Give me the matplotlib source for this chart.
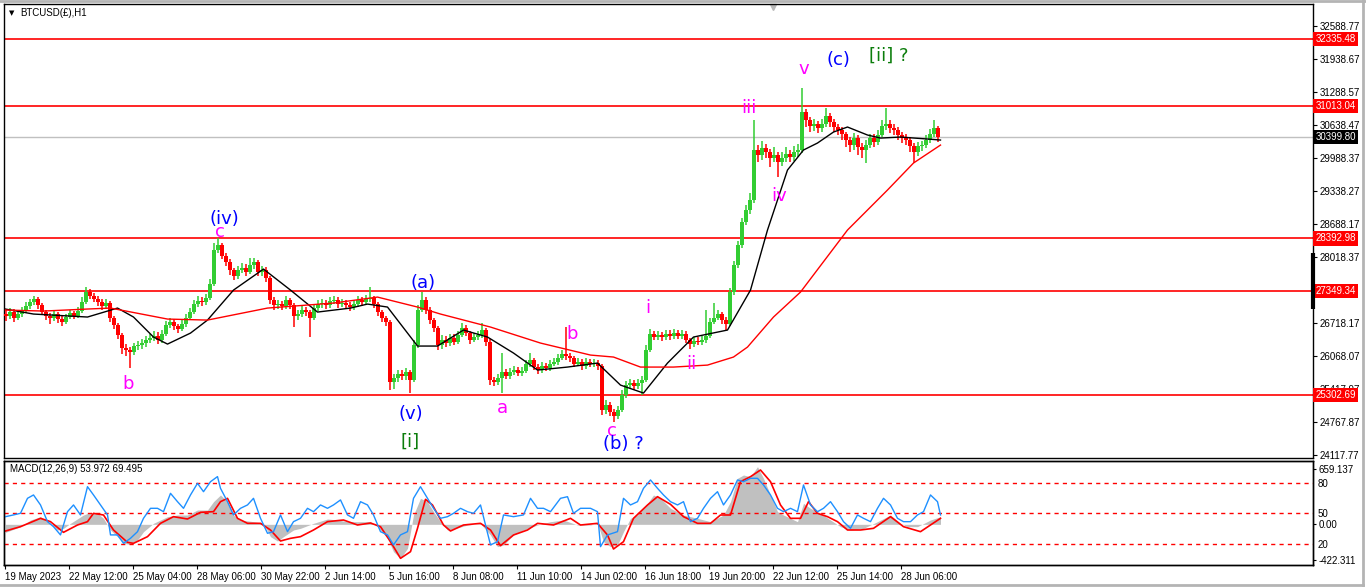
import numpy as np
import matplotlib
matplotlib.use("Agg")
import matplotlib.pyplot as plt
import matplotlib.transforms as mtransforms
from matplotlib.lines import Line2D

W, H = 1366, 588
plt.rcParams['font.family'] = ['Liberation Sans', 'DejaVu Sans']

# BTCUSD(£) H1, read off the chart and grouped 4 hours per candle
# (bar 0 = 19 May 20:00, one bar = one hour)
HOURS_PER_CANDLE = 4
first_open = 26900
close = [
    26861, 26940, 26821, 26900, 26980, 27058, 27137, 27197, 27078, 26940,
    26861, 26821, 26900, 26802, 26742, 26842, 26920, 26861, 26960, 27137,
    27335, 27256, 27197, 27137, 27058, 27118, 26821, 26683, 26486, 26229,
    26190, 26150, 26268, 26288, 26328, 26387, 26426, 26466, 26387, 26505,
    26683, 26742, 26663, 26604, 26703, 26821, 26940, 27098, 27157, 27137,
    27216, 27493, 28164, 28263, 28046, 27927, 27769, 27651, 27769, 27809,
    27730, 27868, 27927, 27730, 27769, 27611, 27177, 27078, 27098, 27058,
    27177, 27078, 26861, 26900, 26980, 26940, 26821, 27019, 27098, 27118,
    27078, 27157, 27177, 27098, 27118, 27078, 27039, 27098, 27177, 27137,
    27197, 27216, 27098, 26940, 26821, 26742, 25557, 25636, 25715, 25676,
    25755, 25597, 26288, 26980, 27177, 26980, 26782, 26624, 26288, 26387,
    26328, 26426, 26347, 26486, 26624, 26525, 26387, 26446, 26486, 26584,
    26347, 25597, 25557, 25636, 25755, 25676, 25755, 25794, 25735, 25775,
    25913, 25992, 25854, 25794, 25873, 25834, 25913, 25952, 26031, 26110,
    26071, 26031, 25913, 25952, 25873, 25952, 25913, 25933, 25873, 25004,
    25103, 24965, 24886, 25004, 25301, 25498, 25538, 25478, 25538, 25597,
    26190, 26505, 26446, 26486, 26446, 26505, 26466, 26525, 26466, 26505,
    26387, 26308, 26367, 26347, 26387, 26466, 26742, 26821, 26900, 26782,
    26703, 27335, 27868, 28263, 28717, 28954, 29152, 30139, 30041, 30179,
    30100, 29981, 30041, 29902, 29981, 30060, 30001, 30100, 30139, 30890,
    30732, 30613, 30653, 30574, 30653, 30811, 30692, 30594, 30534, 30455,
    30337, 30238, 30376, 30199, 30139, 30238, 30376, 30297, 30436, 30613,
    30653, 30574, 30534, 30436, 30376, 30337, 30218, 30100, 30218, 30238,
    30337, 30455, 30574, 30396,
]
high = [
    26990, 27020, 27000, 26980, 27050, 27130, 27200, 27260, 27240, 27110,
    26990, 26920, 26970, 26950, 26860, 26900, 26990, 26970, 27050, 27230,
    27430, 27390, 27310, 27250, 27190, 27200, 27160, 26870, 26720, 26530,
    26300, 26260, 26330, 26370, 26410, 26470, 26510, 26560, 26540, 26590,
    26760, 26830, 26800, 26710, 26780, 26900, 27030, 27170, 27250, 27230,
    27300, 27600, 28300, 28400, 28300, 28100, 27980, 27820, 27850, 27900,
    27880, 28010, 28000, 27960, 27850, 27830, 27650, 27230, 27170, 27150,
    27250, 27220, 27120, 26980, 27060, 27050, 26990, 27090, 27180, 27200,
    27180, 27240, 27260, 27240, 27190, 27170, 27140, 27180, 27260, 27240,
    27280, 27440, 27260, 27140, 26990, 26870, 26780, 25720, 25800, 25790,
    25830, 25800, 26380, 27080, 27340, 27230, 27050, 26830, 26670, 26480,
    26460, 26510, 26500, 26560, 26720, 26680, 26570, 26520, 26570, 26720,
    26630, 26400, 25660, 25720, 26140, 25820, 25830, 25870, 25850, 25850,
    26000, 26140, 26040, 25910, 25950, 25930, 25990, 26030, 26110, 26200,
    26640, 26140, 26080, 26030, 26010, 26040, 26020, 26010, 26000, 25920,
    25200, 25160, 25020, 25080, 25400, 25580, 25620, 25600, 25610, 25680,
    26280, 26600, 26570, 26560, 26540, 26590, 26580, 26610, 26580, 26590,
    26560, 26430, 26450, 26440, 26470, 26980, 26830, 27120, 26990, 26950,
    26840, 27420, 27950, 28350, 28800, 29050, 29300, 30730, 30240, 30320,
    30260, 30160, 30200, 30100, 30100, 30200, 30150, 30220, 30260, 31360,
    30950, 30800, 30760, 30720, 30760, 30970, 30870, 30750, 30660, 30600,
    30500, 30400, 30480, 30430, 30280, 30340, 30460, 30450, 30530, 30740,
    30970, 30740, 30660, 30600, 30500, 30450, 30400, 30280, 30300, 30320,
    30430, 30560, 30740, 30620,
]
low = [
    26760, 26800, 26740, 26780, 26850, 26930, 27000, 27080, 27010, 26880,
    26780, 26700, 26770, 26730, 26660, 26700, 26800, 26800, 26830, 26930,
    27100, 27190, 27130, 27060, 26990, 27000, 26740, 26600, 26400, 26120,
    26080, 25830, 26090, 26200, 26220, 26260, 26320, 26370, 26310, 26330,
    26460, 26620, 26590, 26530, 26560, 26650, 26780, 26900, 27050, 27060,
    27080, 27170, 27450, 28100, 27980, 27850, 27680, 27580, 27600, 27720,
    27660, 27700, 27800, 27650, 27660, 27540, 27090, 26990, 27000, 26980,
    27000, 27000, 26640, 26780, 26840, 26870, 26450, 26780, 26970, 27030,
    27000, 27020, 27090, 27030, 27040, 27000, 26960, 26980, 27040, 27060,
    27080, 27130, 27020, 26860, 26740, 26660, 25400, 25420, 25560, 25600,
    25600, 25340, 25560, 26240, 26940, 26900, 26700, 26540, 26190, 26220,
    26250, 26270, 26280, 26300, 26440, 26460, 26310, 26340, 26390, 26430,
    26270, 25500, 25480, 25500, 25340, 25610, 25620, 25690, 25670, 25680,
    25730, 25860, 25790, 25720, 25740, 25770, 25780, 25870, 25900, 25990,
    26000, 25960, 25850, 25870, 25800, 25820, 25850, 25860, 25800, 24900,
    24930, 24880, 24770, 24820, 24960, 25250, 25440, 25400, 25420, 25300,
    25560, 26150, 26380, 26390, 26370, 26390, 26390, 26410, 26400, 26410,
    26320, 26220, 26250, 26280, 26290, 26330, 26430, 26700, 26780, 26700,
    26580, 26660, 27280, 27820, 28200, 28650, 28880, 29100, 29900, 29950,
    29980, 29800, 29900, 29610, 29820, 29900, 29900, 29920, 30000, 30080,
    30600, 30500, 30520, 30470, 30500, 30600, 30600, 30500, 30430, 30330,
    30200, 30100, 30140, 30050, 29990, 29880, 30180, 30200, 30230, 30390,
    30540, 30480, 30430, 30330, 30280, 30230, 30100, 29880, 30020, 30130,
    30170, 30280, 30400, 30300,
]

# moving averages as drawn on the chart: (bar, price)
ma_black = [
    (1, 26999), (29, 26901), (83, 26842), (113, 27019), (129, 26842), (149, 26447),
    (163, 26308), (186, 26525), (203, 26782), (229, 27374), (259, 27789), (286, 27374),
    (313, 26940), (346, 27019), (363, 27098), (383, 27039), (413, 26269), (433, 26269),
    (459, 26585), (483, 26447), (509, 26131), (533, 25795), (563, 25854), (593, 25933),
    (616, 25498), (639, 25341), (663, 25933), (689, 26447), (723, 26585), (746, 27374),
    (763, 28560), (783, 29745), (799, 30140), (813, 30278), (829, 30495), (843, 30594),
    (863, 30436), (876, 30376), (896, 30396), (923, 30357), (936, 30337),
]
ma_red = [
    (1, 26980), (39, 26960), (83, 27000), (106, 27019), (163, 26802), (203, 26782),
    (263, 27019), (329, 27118), (373, 27236), (413, 27039), (436, 26901), (486, 26644),
    (536, 26328), (586, 26091), (609, 26052), (636, 25854), (669, 25854), (703, 25893),
    (729, 26052), (743, 26249), (769, 26842), (796, 27335), (843, 28560), (883, 29350),
    (909, 29883), (936, 30238),
]

sr_levels = [32335.48, 31013.04, 28392.98, 27349.34, 25302.69]
bid_price = 30399.80
price_ticks = [32588.77, 31938.67, 31288.57, 30638.47, 29988.37, 29338.27, 28688.17,
               28018.37, 26718.17, 26068.07, 25417.97, 24767.87, 24117.77]
time_labels = ["19 May 2023", "22 May 12:00", "25 May 04:00", "28 May 06:00",
               "30 May 22:00", "2 Jun 14:00", "5 Jun 16:00", "8 Jun 08:00",
               "11 Jun 10:00", "14 Jun 02:00", "16 Jun 18:00", "19 Jun 20:00",
               "22 Jun 12:00", "25 Jun 14:00", "28 Jun 06:00"]
TICK_EVERY = 64

# MACD window: histogram and signal (bar, value), blue line on the 0-100 level scale
macd_hist = [
    (1, -96), (16, -28), (26, 52), (36, 92), (46, 12), (53, -68), (59, -48), (66, 12),
    (79, 112), (86, 144), (93, 132), (99, 72), (106, -68), (113, -148), (119, -228),
    (126, -240), (133, -188), (139, -88), (149, 12), (163, 92), (173, 112), (183, 112),
    (193, 172), (203, 172), (209, 272), (216, 352), (223, 272), (229, 112), (236, 52),
    (249, 32), (259, 12), (266, -148), (273, -200), (279, -148), (289, -68), (296, -48),
    (309, 12), (323, 64), (333, 52), (343, 32), (356, 32), (366, 32), (373, -28),
    (383, -168), (389, -328), (396, -408), (403, -288), (409, 112), (416, 312),
    (423, 272), (429, 152), (436, 32), (443, -68), (449, -56), (463, -8), (476, 8),
    (486, -128), (493, -268), (499, -248), (509, -128), (519, -68), (533, -8), (546, 32),
    (559, 52), (573, -8), (586, -8), (593, 12), (599, -208), (606, -268), (613, -248),
    (619, -88), (626, 72), (633, 112), (643, 252), (649, 352), (656, 312), (666, 192),
    (679, 112), (693, 72), (706, 32), (719, 112), (726, 272), (733, 552), (739, 592),
    (746, 572), (753, 692), (759, 552), (766, 352), (773, 152), (779, 112), (786, 72),
    (793, 32), (799, 252), (806, 192), (816, 132), (826, 52), (836, -28), (846, -68),
    (859, -48), (873, 32), (886, 112), (896, 12), (903, -28), (913, -28), (926, 52),
    (936, 92),
]
macd_signal = [
    (1, -80), (16, -28), (36, 72), (46, 32), (59, -96), (73, -8), (83, 32), (89, 132),
    (99, 112), (109, -68), (123, -216), (129, -228), (143, -148), (156, 12), (169, 92),
    (183, 64), (196, 144), (209, 152), (216, 272), (223, 312), (233, 72), (243, 12),
    (256, 12), (266, -68), (276, -200), (286, -168), (296, -148), (309, -68), (323, 32),
    (339, 52), (353, -8), (366, 16), (376, -28), (386, -208), (396, -408), (406, -328),
    (413, -48), (421, 300), (428, 232), (439, -8), (446, -80), (459, -8), (476, 12),
    (486, -68), (496, -256), (509, -128), (523, -68), (533, 12), (549, -8), (566, 72),
    (576, -8), (593, 12), (603, -128), (609, -296), (619, -208), (629, 72), (643, 232),
    (653, 332), (666, 240), (679, 92), (693, 12), (706, 12), (716, 112), (726, 112),
    (736, 512), (746, 572), (756, 652), (766, 512), (776, 232), (786, 72), (796, 72),
    (804, 272), (813, 132), (823, 92), (833, 32), (843, -68), (856, -68), (869, -48),
    (886, 92), (899, -28), (916, -88), (926, -8), (936, 72),
]
blue_line = [
    (1, 46.7), (9, 48.4), (16, 50), (23, 64.7), (29, 68), (36, 58.2), (43, 41.8),
    (49, 36.9), (56, 28.8), (63, 51.6), (69, 58.2), (76, 48.4), (83, 76.1), (89, 68),
    (96, 58.2), (103, 48.4), (106, 28.8), (113, 28.8), (119, 20.6), (126, 25.5),
    (133, 32), (139, 45.1), (146, 54.9), (153, 54.9), (159, 51.6), (166, 69.6),
    (173, 61.4), (179, 54.9), (186, 68), (193, 79.4), (199, 71.2), (206, 81), (213, 86),
    (216, 74.5), (223, 61.4), (229, 48.4), (236, 54.9), (243, 58.2), (249, 64.7),
    (256, 45.1), (263, 30.4), (269, 32), (276, 48.4), (283, 32), (289, 41.8), (296, 45.1),
    (303, 54.9), (309, 51.6), (316, 58.2), (323, 54.9), (329, 58.2), (336, 63.1),
    (343, 48.4), (349, 45.1), (356, 61.4), (363, 58.2), (369, 48.4), (376, 32),
    (383, 28.8), (389, 19), (396, 28.8), (403, 32), (409, 64.7), (416, 76.1), (423, 64.7),
    (429, 54.9), (436, 45.1), (443, 46.7), (449, 50), (456, 54.9), (463, 51.6), (469, 50),
    (476, 58.2), (486, 19), (493, 22.2), (499, 48.4), (509, 46.7), (519, 48.4),
    (526, 64.7), (533, 54.9), (539, 54.9), (546, 51.6), (556, 64.7), (563, 66.3),
    (569, 50), (576, 54.9), (586, 54.9), (593, 51.6), (596, 17.3), (603, 28.8), (613, 32),
    (619, 64.7), (626, 58.2), (633, 61.4), (639, 74.5), (646, 82.7), (653, 74.5),
    (659, 68), (666, 61.4), (673, 58.2), (679, 61.4), (686, 41.8), (693, 45.1),
    (699, 54.9), (706, 64.7), (713, 71.2), (719, 58.2), (726, 68), (733, 82.7), (739, 81),
    (746, 84.3), (753, 84.3), (759, 77.8), (766, 68), (773, 54.9), (779, 51.6),
    (786, 54.9), (793, 51.6), (799, 77.8), (806, 58.2), (813, 51.6), (819, 54.9),
    (826, 61.4), (833, 51.6), (839, 41.8), (846, 35.3), (853, 48.4), (859, 45.1),
    (866, 41.8), (873, 54.9), (879, 64.7), (886, 58.2), (893, 45.1), (899, 41.8),
    (906, 41.8), (913, 48.4), (919, 51.6), (926, 68), (933, 61.4), (936, 48.4),
]
blue_levels = [80, 50, 20]
macd_ticks = [659.137, 0.0, -422.311]
macd_tick_labels = ["659.137", "0.00", "-422.311"]

BLUE, MAGENTA, GREEN = "#0000FF", "#FF00FF", "#0B7D0B"
# Elliott wave labels: (text, bar, price, colour)
waves = [
    ("(iv)", 220, 28777, BLUE), ("c", 215, 28520, MAGENTA), ("b", 124, 25518, MAGENTA),
    ("(a)", 419, 27513, BLUE), ("(v)", 406, 24925, BLUE), ("[i]", 406, 24373, GREEN),
    ("a", 498, 25044, MAGENTA), ("b", 568, 26506, MAGENTA), ("c", 607, 24590, MAGENTA),
    ("(b) ?", 619, 24333, BLUE), ("i", 643, 27019, MAGENTA), ("ii", 687, 25913, MAGENTA),
    ("iii", 744, 30969, MAGENTA), ("iv", 775, 29231, MAGENTA), ("v", 799, 31740, MAGENTA),
    ("(c)", 834, 31917, BLUE), ("[ii] ?", 884, 31996, GREEN),
]


def add_px_axes(left, top, right, bottom):
    return fig.add_axes([left / W, 1 - bottom / H, (right - left) / W, (bottom - top) / H])


fig = plt.figure(figsize=(W / 100, H / 100), dpi=100)
ax = add_px_axes(4, 4, 1313, 458)
axm = add_px_axes(4, 461, 1313, 565)
xlim = (-0.5, 1308.5)

# ---- price window
o = np.array([first_open] + close[:-1], float)
c = np.array(close, float)
hi = np.maximum(np.array(high, float), np.maximum(o, c))
lo = np.minimum(np.array(low, float), np.minimum(o, c))
xc = np.arange(len(c)) * HOURS_PER_CANDLE + 1.5
cols = np.where(c >= o, "#32CD32", "#FF0000")
ax.vlines(xc, lo, hi, colors=cols, lw=1.1, zorder=3)
ax.bar(xc, np.maximum(np.abs(c - o), 15), bottom=np.minimum(o, c), width=3.3,
       color=cols, lw=0, zorder=3)

bx, bv = zip(*ma_black)
ax.plot(bx, bv, color="black", lw=1, zorder=4)
rx, rv = zip(*ma_red)
ax.plot(rx, rv, color="#FF0000", lw=1, zorder=4)

for p in sr_levels:
    ax.axhline(p, color="#FF0000", lw=1.2, zorder=2)
ax.axhline(bid_price, color="#C0C0C0", lw=1, zorder=1)

for txt, b, p, col in waves:
    ax.text(b, p, txt, color=col, fontsize=13, ha="center", va="center",
            family="DejaVu Sans", zorder=5)

ax.set_xlim(xlim)
ax.set_ylim(24058.5, 33023.2)
ax.set_xticks([])
ax.yaxis.tick_right()
ax.set_yticks(price_ticks, labels=[f"{t:.2f}" for t in price_ticks])
ax.tick_params(axis="y", length=3, width=0.8, pad=2, labelsize=7)

trans = mtransforms.blended_transform_factory(ax.transAxes, ax.transData)
for p in sr_levels:
    ax.text(1.0018, p, f"{p:.2f}", transform=trans, ha="left", va="center",
            fontsize=7, color="white", zorder=6, clip_on=False,
            bbox=dict(boxstyle="square,pad=0.22", fc="#FF0000", ec="none"))
ax.text(1.0018, bid_price, f"{bid_price:.2f}", transform=trans, ha="left",
        va="center", fontsize=7, color="white", zorder=6, clip_on=False,
        bbox=dict(boxstyle="square,pad=0.22", fc="black", ec="none"))
ax.plot([1, 1], [27000, 28106], transform=trans, color="black", lw=3,
        clip_on=False, solid_capstyle="butt", zorder=6)
ax.plot([0.5875], [0.993], marker="v", ms=5, color="#B8B8B8",
        transform=ax.transAxes, clip_on=False)

# ---- MACD window
hx, hv = zip(*macd_hist)
axm.fill_between(hx, 0, hv, color="#C0C0C0", lw=0)
sx, sv = zip(*macd_signal)
axm.plot(sx, sv, color="#FF0000", lw=1.2, zorder=3)
axm.set_xlim(xlim)
axm.set_ylim(-488, 760)
axm.set_xticks([TICK_EVERY * i + 0.5 for i in range(len(time_labels))], labels=time_labels)
axm.tick_params(axis="x", length=3, width=0.8, pad=2, labelsize=7)
for lab in axm.get_xticklabels():
    lab.set_horizontalalignment("left")

axb = axm.twinx()
axb.set_ylim(-0.7, 101.3)
for lv in blue_levels:
    axb.axhline(lv, color="#FF0000", lw=1, ls=(0, (3, 3)))
lx, lv_ = zip(*blue_line)
axb.plot(lx, lv_, color="#1E90FF", lw=1)
axb.set_yticks(blue_levels, labels=[str(v) for v in blue_levels])
axb.tick_params(axis="y", length=0, pad=3, labelsize=7)

# twinx puts the first axis on the left; MT4 keeps every scale on the right
axm.yaxis.tick_right()
axm.yaxis.set_label_position("right")
axm.set_yticks(macd_ticks, labels=macd_tick_labels)
axm.tick_params(axis="y", which="both", left=False, labelleft=False, right=True,
                labelright=True, length=2, width=0.8, pad=2, labelsize=7)

for a in (ax, axm, axb):
    for s in a.spines.values():
        s.set_color("black")
        s.set_linewidth(1)

fig.text(10 / W, 1 - 469 / H, "MACD(12,26,9) 53.972 69.495", fontsize=7, va="center")
fig.text(20 / W, 1 - 13 / H, "BTCUSD(£),H1", fontsize=7, va="center")
fig.text(9 / W, 1 - 13.5 / H, "▼", fontsize=5, va="center", family="DejaVu Sans")

# window frame of the terminal
fig.add_artist(Line2D([1363 / W, 1363 / W], [1 - 585 / H, 1], color="#B4B4B4", lw=2))
fig.add_artist(Line2D([0, 1363 / W], [1 - 585 / H, 1 - 585 / H], color="#B4B4B4", lw=2))
fig.add_artist(Line2D([0, 1], [1 - 1 / H, 1 - 1 / H], color="#B4B4B4", lw=2))

fig.savefig("out.png", dpi=100)
